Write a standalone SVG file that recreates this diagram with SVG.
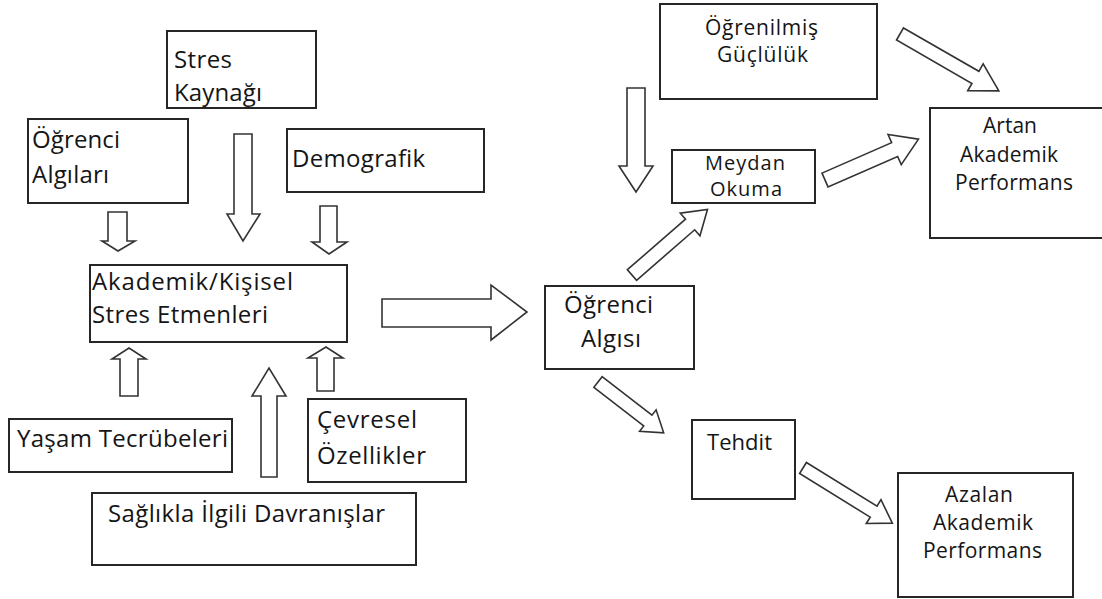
<svg xmlns="http://www.w3.org/2000/svg" width="1102" height="599" viewBox="0 0 1102 599">
<style>
.box{fill:#fff;stroke:#262626;stroke-width:2}
.arr{fill:#fff;stroke:#333;stroke-width:1.6;stroke-linejoin:miter}
text{font-family:"Open Sans","Noto Sans","DejaVu Sans",sans-serif;fill:#151515}
.l{font-size:24px}
.t{font-size:22px}
.s{font-size:21px}
.m{font-size:20px}
</style>
<rect width="1102" height="599" fill="#fff"/>
<g id="connectors">
<polygon class="arr" points="108,212 127,212 127,241 135,241 118,251 102,241 108,241"/>
<polygon class="arr" points="234,134 252,134 252,214 260,214 243,241 227,214 234,214"/>
<polygon class="arr" points="320,206 337,206 337,242 347,242 329,254 312,242 320,242"/>
<polygon class="arr" points="120,396 138,396 138,359 146,359 129,348 112,359 120,359"/>
<polygon class="arr" points="261,477 277,477 277,396 286,396 269,368 252,396 261,396"/>
<polygon class="arr" points="317,391 334,391 334,358 343,358 326,347 308,358 317,358"/>
<polygon class="arr" points="627,88 645,88 645,166 653,166 636,192 619,166 627,166"/>
<polygon class="arr" points="382,299 491,299 491,285 527,312 491,340 491,327 382,327"/>
<polygon class="arr" transform="translate(632,275) rotate(-41)" points="0,-7 77,-7 77,-15 100,0 77,15 77,7 0,7"/>
<polygon class="arr" transform="translate(825,180) rotate(-23.6)" points="0,-7.5 76,-7.5 76,-16.5 102,0 76,16.5 76,7.5 0,7.5"/>
<polygon class="arr" transform="translate(900,34) rotate(29.9)" points="0,-7 87,-7 87,-15.5 114,0 87,15.5 87,7 0,7"/>
<polygon class="arr" transform="translate(598,382) rotate(37.7)" points="0,-6.75 63,-6.75 63,-13.5 83,0 63,13.5 63,6.75 0,6.75"/>
<polygon class="arr" transform="translate(803,468) rotate(31.7)" points="0,-6.5 83,-6.5 83,-14 105,0 83,14 83,6.5 0,6.5"/>
</g>
<g id="stres-kaynagi">
<rect class="box" x="167" y="31" width="149" height="77"/>
<text class="l" x="174" y="68" textLength="58">Stres</text>
<text class="l" x="174" y="101" textLength="88">Kaynağı</text>
</g>
<g id="ogrenci-algilari">
<rect class="box" x="28" y="119" width="160" height="84"/>
<text class="l" x="32" y="148" textLength="88">Öğrenci</text>
<text class="l" x="32" y="183" textLength="77">Algıları</text>
</g>
<g id="demografik">
<rect class="box" x="287" y="129" width="197" height="63"/>
<text class="l" x="292" y="167" textLength="133">Demografik</text>
</g>
<g id="akademik-kisisel">
<rect class="box" x="90" y="265" width="257" height="77"/>
<text class="l" x="92" y="290" textLength="201">Akademik/Kişisel</text>
<text class="l" x="92" y="323" textLength="176">Stres Etmenleri</text>
</g>
<g id="yasam-tecrubeleri">
<rect class="box" x="9" y="419" width="223" height="53"/>
<text class="l" x="17" y="447" textLength="211">Yaşam Tecrübeleri</text>
</g>
<g id="cevresel-ozellikler">
<rect class="box" x="308" y="399" width="158" height="83"/>
<text class="l" x="317" y="428" textLength="100">Çevresel</text>
<text class="l" x="317" y="464" textLength="109">Özellikler</text>
</g>
<g id="saglikla-ilgili">
<rect class="box" x="92" y="493" width="324" height="72"/>
<text class="l" x="108" y="522" textLength="277">Sağlıkla İlgili Davranışlar</text>
</g>
<g id="ogrenci-algisi">
<rect class="box" x="545" y="286" width="149" height="83"/>
<text class="l" x="564" y="313" textLength="89">Öğrenci</text>
<text class="l" x="581" y="347" textLength="60">Algısı</text>
</g>
<g id="ogrenilmis-gucluluk">
<rect class="box" x="660" y="4" width="217" height="95"/>
<text class="s" x="705" y="35" textLength="113">Öğrenilmiş</text>
<text class="s" x="717" y="62" textLength="91">Güçlülük</text>
</g>
<g id="meydan-okuma">
<rect class="box" x="672" y="150" width="143" height="53"/>
<text class="m" x="705" y="170" textLength="80">Meydan</text>
<text class="m" x="710" y="196" textLength="72">Okuma</text>
</g>
<g id="artan">
<rect class="box" x="930" y="108" width="180" height="130"/>
<text class="s" x="983" y="133" textLength="54">Artan</text>
<text class="s" x="960" y="162" textLength="98">Akademik</text>
<text class="s" x="955" y="190" textLength="118">Performans</text>
</g>
<g id="tehdit">
<rect class="box" x="692" y="420" width="103" height="79"/>
<text class="t" x="707" y="450" textLength="65">Tehdit</text>
</g>
<g id="azalan">
<rect class="box" x="898" y="473" width="175" height="124"/>
<text class="s" x="945" y="502" textLength="68">Azalan</text>
<text class="s" x="933" y="530" textLength="100">Akademik</text>
<text class="s" x="923" y="558" textLength="119">Performans</text>
</g>
</svg>
